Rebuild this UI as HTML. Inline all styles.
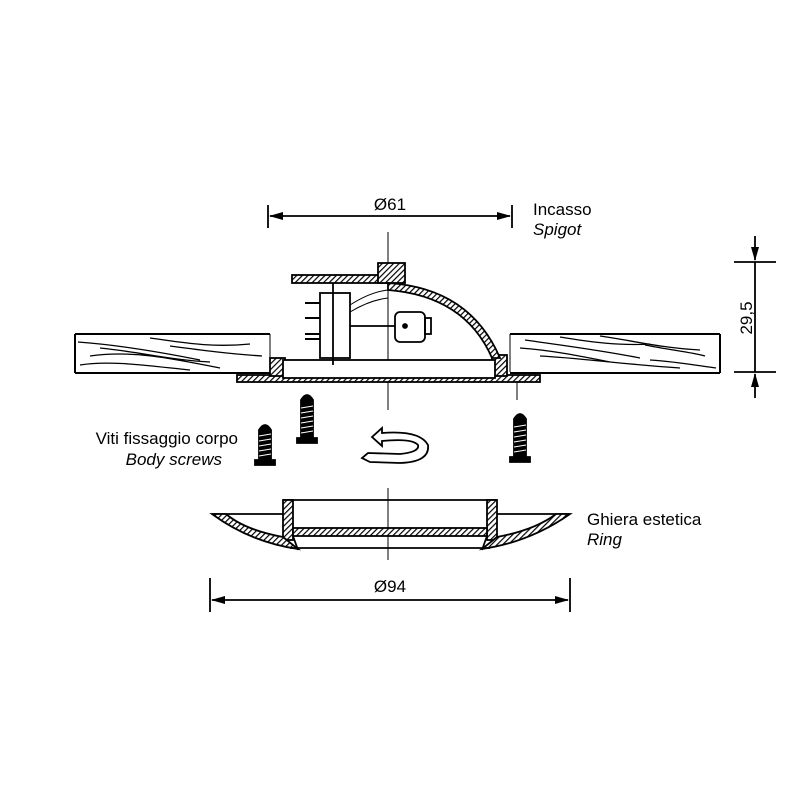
<!DOCTYPE html>
<html><head><style>body{margin:0;background:#fff}svg{display:block}</style></head><body>
<svg width="800" height="800" viewBox="0 0 800 800" xmlns="http://www.w3.org/2000/svg" font-family="Liberation Sans, sans-serif" font-size="17">
<defs>
<pattern id="h" width="4" height="4" patternUnits="userSpaceOnUse" patternTransform="rotate(45)"><rect width="4" height="4" fill="#fff"/><line x1="0" y1="0" x2="0" y2="4" stroke="#000" stroke-width="2.4"/></pattern>
<marker id="a" markerWidth="14" markerHeight="8" refX="13" refY="4" orient="auto-start-reverse" markerUnits="userSpaceOnUse"><path d="M0,0 L14,4 L0,8Z" fill="#000"/></marker>
</defs>
<g stroke="#000" fill="none" stroke-width="1.8">
<line x1="268" y1="205" x2="268" y2="228"/><line x1="512" y1="205" x2="512" y2="228"/>
<line x1="270" y1="216" x2="510" y2="216" marker-start="url(#a)" marker-end="url(#a)"/>
<line x1="734" y1="262" x2="776" y2="262"/><line x1="734" y1="372" x2="776" y2="372"/>
<line x1="755" y1="236" x2="755" y2="260" marker-end="url(#a)"/>
<line x1="755" y1="398" x2="755" y2="374" marker-end="url(#a)"/>
<line x1="755" y1="262" x2="755" y2="372"/>
<path d="M75,334 H270 M75,373 H270 M75,334 V373 M510,334 H720 M510,373 H720 M720,334 V373" stroke-width="2"/>
<path d="M270,334 V360 M510,334 V372" stroke-width="1"/>
<g stroke-width="1.3">
<path d="M78,342 C120,345 160,352 200,360 M90,356 C130,350 170,358 220,368 M150,338 C180,342 210,348 250,344 M80,365 C110,360 150,366 190,370 M100,348 C140,352 170,360 210,362 M170,346 C200,350 230,354 262,356"/>
<path d="M525,340 C560,345 600,350 640,358 M600,336 C630,340 660,348 700,350 M540,356 C580,358 620,364 680,368 M645,345 C670,350 690,352 705,356 M520,348 C550,350 580,356 610,362 M650,360 C680,362 700,366 716,368 M560,337 C590,342 620,346 650,344"/>
</g>
<line x1="388" y1="232" x2="388" y2="410" stroke-width="1"/>
<line x1="517" y1="372" x2="517" y2="400" stroke-width="1"/>
<rect x="237" y="375" width="303" height="7" fill="url(#h)"/>
<rect x="270" y="358" width="15" height="18" fill="url(#h)"/>
<rect x="492" y="355" width="15" height="21" fill="url(#h)"/>
<rect x="283" y="360" width="212" height="18" fill="#fff"/>
<rect x="292" y="275" width="96" height="8" fill="url(#h)"/>
<rect x="378" y="263" width="27" height="20" fill="url(#h)"/>
<path d="M388,283 Q470,288 500,358 L492,358 Q465,296 388,290Z" fill="url(#h)"/>
<rect x="320" y="293" width="30" height="65" fill="#fff"/>
<line x1="333" y1="283" x2="333" y2="365"/>
<path d="M305,303 H320 M305,318 H320 M305,334 H320 M305,339 H320" stroke-width="2"/>
<rect x="395" y="312" width="30" height="30" rx="5" fill="#fff"/>
<rect x="425" y="318" width="6" height="16"/>
<line x1="350" y1="326" x2="395" y2="326"/><circle cx="405" cy="326" r="2" fill="#000"/>
<path d="M350,305 Q370,292 388,290 M350,312 Q370,300 388,298" stroke-width="1"/>
<g fill="#000">
<path d="M259,430 q6,-10 12,0 v30 h4 v5 h-20 v-5 h4z"/>
<path d="M301,400 q6,-10 12,0 v38 h4 v5 h-20 v-5 h4z"/>
<path d="M514,419 q6,-10 12,0 v38 h4 v5 h-20 v-5 h4z"/>
</g>
<g stroke="#fff" stroke-width="1">
<path d="M259,436 l12,-2 M259,441 l12,-2 M259,446 l12,-2 M259,451 l12,-2 M259,456 l12,-2"/>
<path d="M301,408 l12,-2 M301,413 l12,-2 M301,418 l12,-2 M301,423 l12,-2 M301,428 l12,-2 M301,433 l12,-2"/>
<path d="M514,427 l12,-2 M514,432 l12,-2 M514,437 l12,-2 M514,442 l12,-2 M514,447 l12,-2 M514,452 l12,-2"/>
</g>
<path d="M372,437 L382,428 L382,433 Q420,430 428,445 Q430,462 400,463 L370,462 L362,458 L368,453 L400,454 Q420,452 418,445 Q412,438 382,441 L382,446Z" fill="#fff" stroke-width="1.8"/>
<line x1="388" y1="488" x2="388" y2="560" stroke-width="1"/>
<path d="M283,500 H497"/>
<rect x="283" y="500" width="10" height="40" fill="url(#h)"/>
<rect x="487" y="500" width="10" height="40" fill="url(#h)"/>
<rect x="293" y="528" width="194" height="8" fill="url(#h)"/>
<path d="M212,514 H283 M497,514 H570"/>
<path d="M212,514 Q250,542 298,549 L283,537 Q245,530 226,514Z" fill="url(#h)"/>
<path d="M570,514 Q530,542 482,549 L497,537 Q535,530 556,514Z" fill="url(#h)"/>
<path d="M290,548 H490 M293,536 L298,550 M487,536 L482,550"/>
<line x1="210" y1="578" x2="210" y2="612"/><line x1="570" y1="578" x2="570" y2="612"/>
<line x1="212" y1="600" x2="568" y2="600" marker-start="url(#a)" marker-end="url(#a)"/>
</g>
<g fill="#000">
<text x="390" y="210" text-anchor="middle">Ø61</text>
<text x="533" y="215">Incasso</text>
<text x="533" y="235" font-style="italic">Spigot</text>
<text x="752" y="318" text-anchor="middle" transform="rotate(-90 752 318)">29,5</text>
<text x="238" y="444" text-anchor="end">Viti fissaggio corpo</text>
<text x="222" y="465" text-anchor="end" font-style="italic">Body screws</text>
<text x="587" y="525">Ghiera estetica</text>
<text x="587" y="545" font-style="italic">Ring</text>
<text x="390" y="592" text-anchor="middle">Ø94</text>
</g>
</svg>
</body></html>
